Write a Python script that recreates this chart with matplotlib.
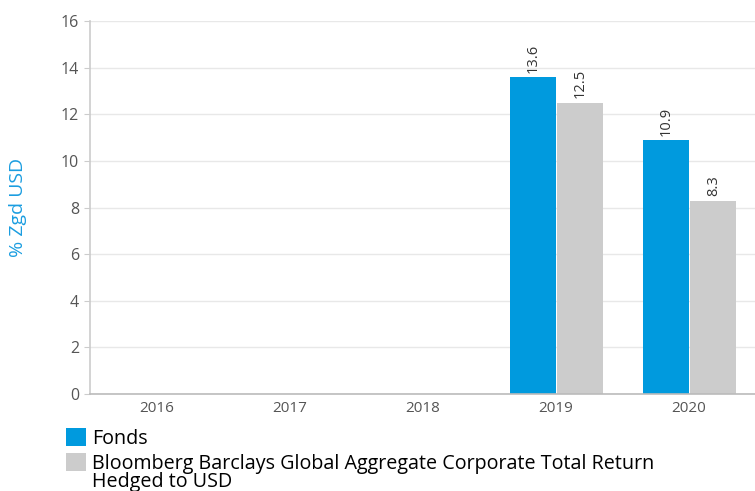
import matplotlib.pyplot as plt
from matplotlib.patches import Rectangle
from matplotlib.legend_handler import HandlerPatch
import numpy as np

plt.rcParams['font.family'] = ['Open Sans', 'DejaVu Sans']

years = ['2016', '2017', '2018', '2019', '2020']
fonds = [np.nan, np.nan, np.nan, 13.6, 10.9]
bench = [np.nan, np.nan, np.nan, 12.5, 8.3]
labels = ['Fonds',
          'Bloomberg Barclays Global Aggregate Corporate Total Return\nHedged to USD']
yticks = [0, 2, 4, 6, 8, 10, 12, 14, 16]

blue = '#009ade'
grey = '#cccccc'

fig = plt.figure(figsize=(7.55, 4.91), dpi=100)
ax = fig.add_axes([90 / 755, 97 / 491, 1 - 90 / 755, 373 / 491])

x = np.arange(len(years))
w = 0.345
b1 = ax.bar(x - w / 2 + 0.006, fonds, w, color=blue)
b2 = ax.bar(x + w / 2 + 0.014, bench, w, color=grey)

for bars, vals in ((b1, fonds), (b2, bench)):
    for rect, v in zip(bars, vals):
        if np.isnan(v):
            continue
        ax.annotate(f'{v:.1f}', (rect.get_x() + rect.get_width() / 2, v),
                    xytext=(0, 3), textcoords='offset points',
                    rotation=90, ha='center', va='bottom',
                    fontsize=10.5, color='#333333')

ax.set_xlim(-0.5, len(years) - 0.5)
ax.set_ylim(0, 16)
ax.set_yticks(yticks)
ax.set_xticks(x)
ax.set_xticklabels(years)
ax.tick_params(axis='y', length=4, color='#cccccc', labelsize=11.5, labelcolor='#555555', pad=4)
ax.tick_params(axis='x', length=0, labelsize=11, labelcolor='#555555', pad=5)
ax.grid(axis='y', color='#e8e8e8', linewidth=1)
ax.set_axisbelow(True)
for s in ['top', 'right']:
    ax.spines[s].set_visible(False)
ax.spines['left'].set_color('#cccccc')
ax.spines['bottom'].set_color('#bbbbbb')
ax.spines['left'].set_linewidth(1.2)
ax.spines['bottom'].set_linewidth(1.2)

fig.text(18 / 755, 1 - 207 / 491, '% Zgd USD', rotation=90, ha='center', va='center',
         fontsize=14, color='#1a9de0')


# keep the square of the two-line entry next to its first line
def top_square(legend, orig_handle, xdescent, ydescent, width, height, fontsize):
    return Rectangle((-xdescent, -ydescent + 8.6), width, height)


h1 = b1.patches[3]
h2 = b2.patches[3]
fig.legend(handles=[h1, h2], labels=labels, loc='upper left',
           bbox_to_anchor=(66 / 755, 1 - 428 / 491),
           frameon=False, fontsize=14.2, handlelength=1.0, handleheight=1.0,
           handletextpad=0.3, labelspacing=0.3, borderpad=0, borderaxespad=0,
           handler_map={h2: HandlerPatch(patch_func=top_square)})
for t in fig.legends[0].get_texts():
    t.set_linespacing(0.85)

fig.savefig('out.png', dpi=100)
